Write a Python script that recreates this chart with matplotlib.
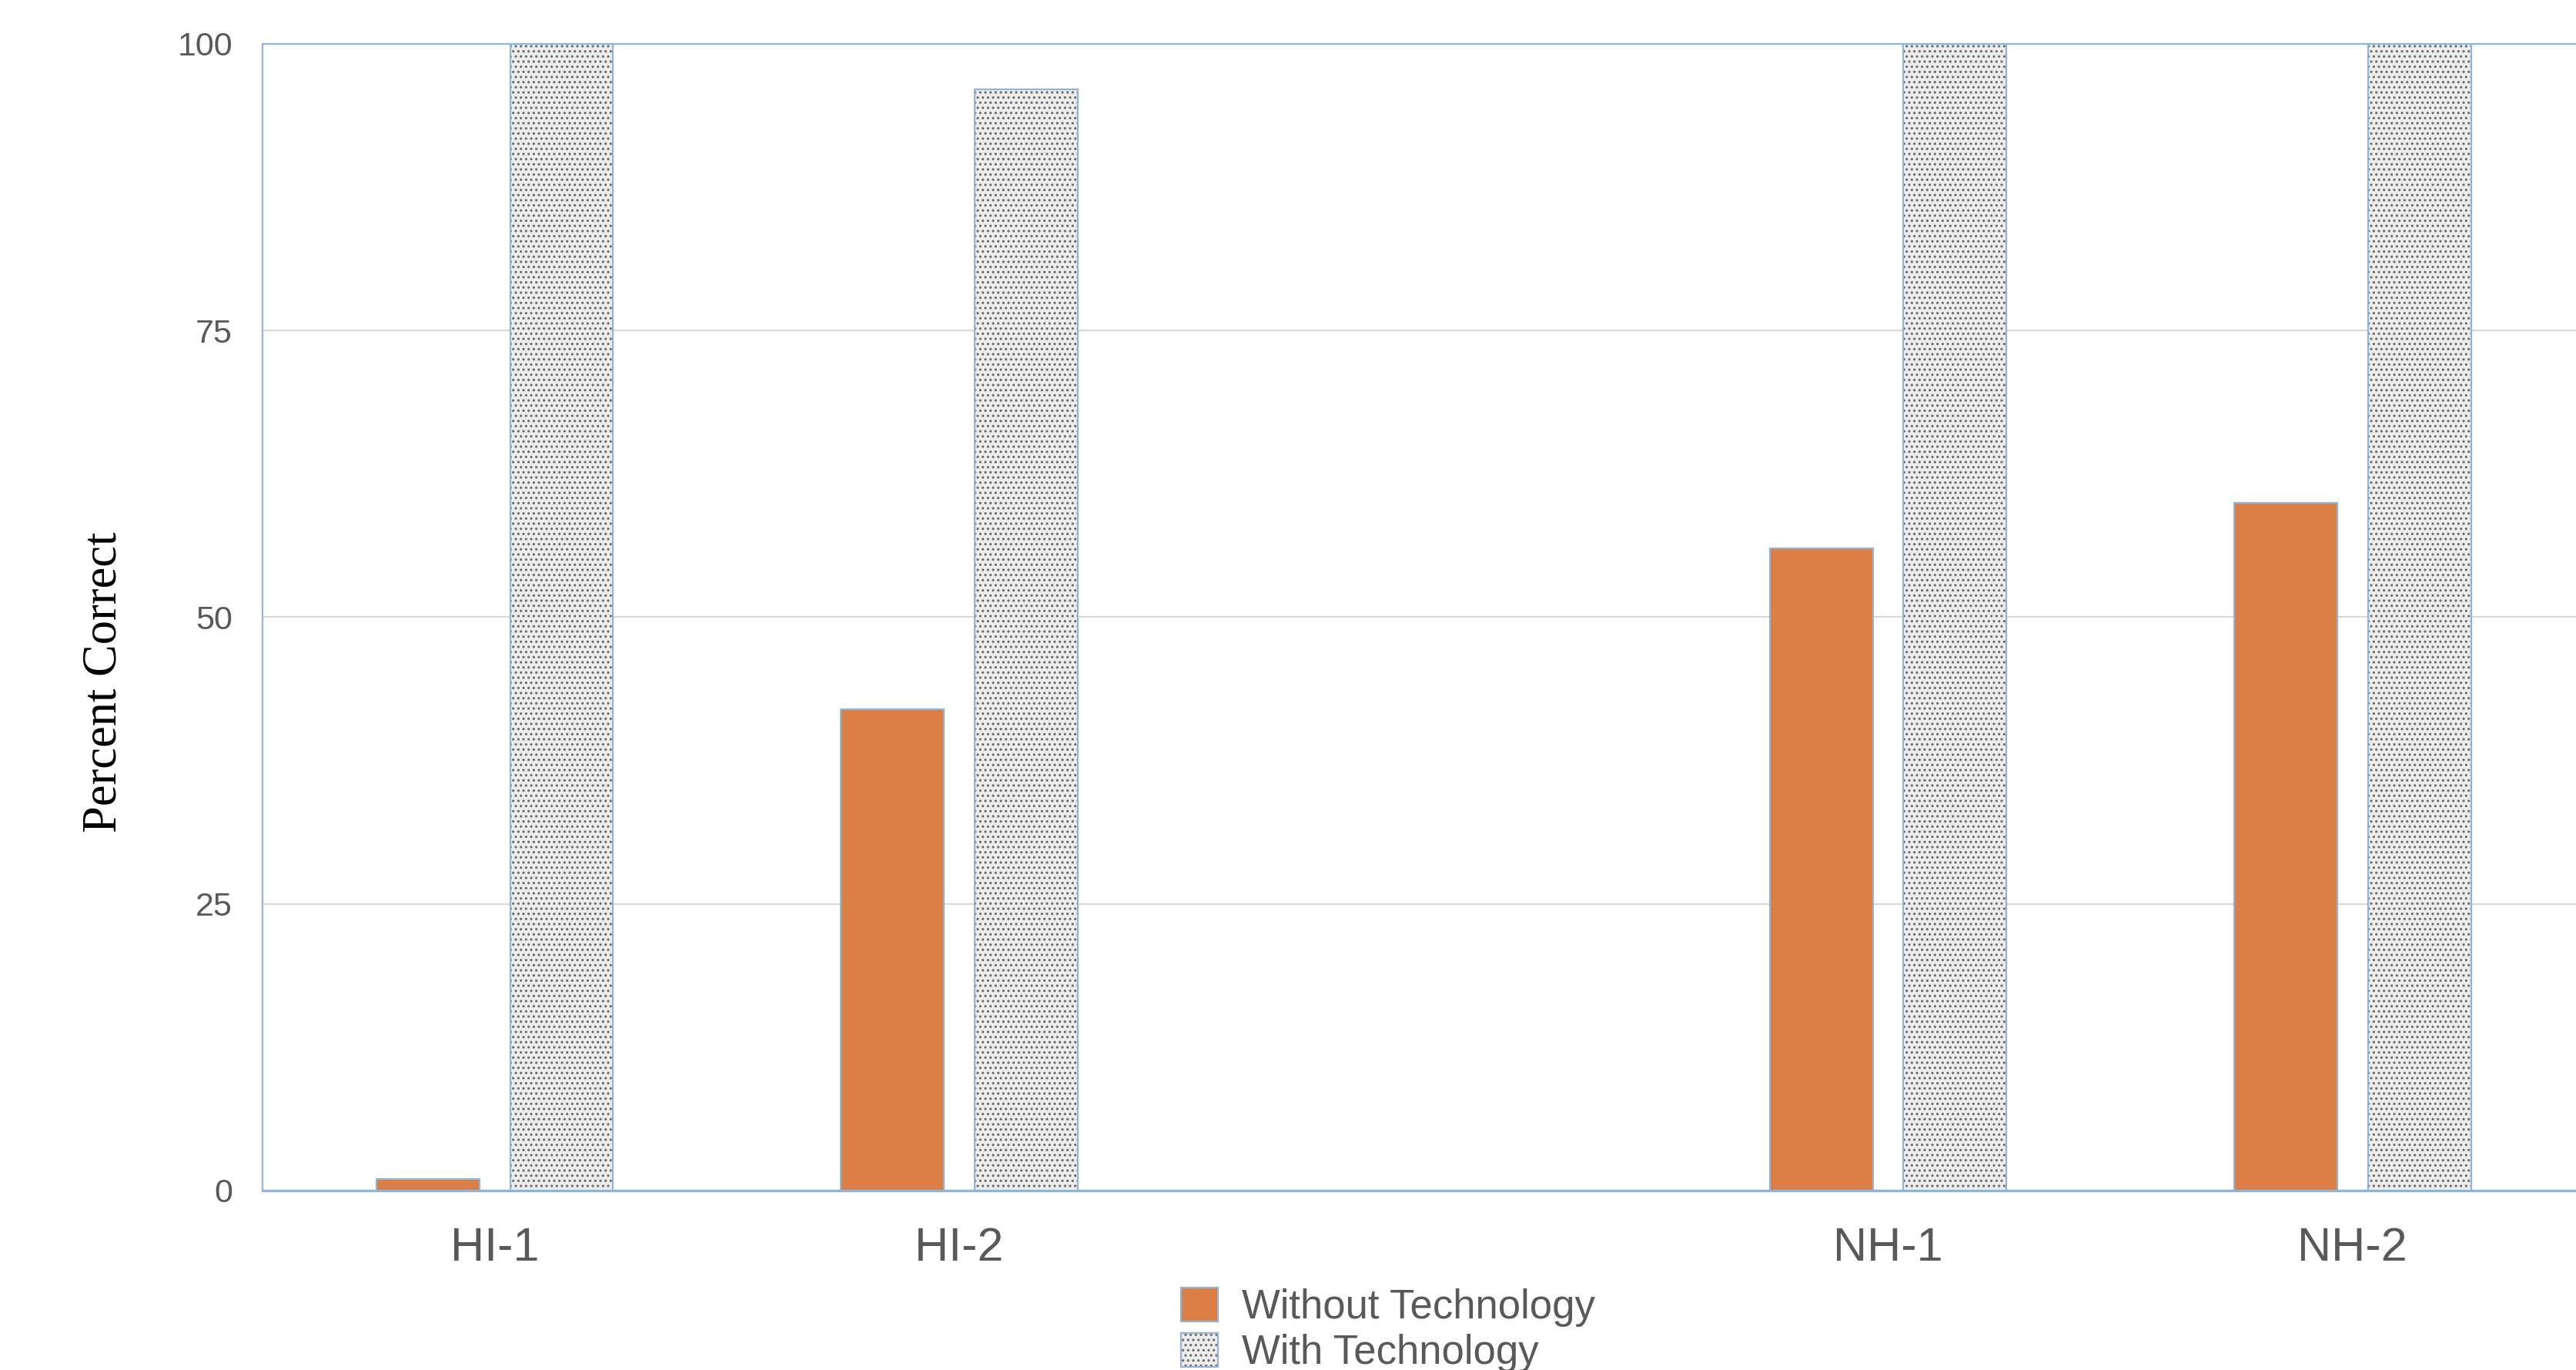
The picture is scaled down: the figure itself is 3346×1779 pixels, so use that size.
import matplotlib
matplotlib.use("Agg")
import matplotlib.pyplot as plt
from matplotlib.patches import Patch
import numpy as np

# Data
categories = ["HI-1", "HI-2", "", "NH-1", "NH-2"]
without_tech = [1, 42, np.nan, 56, 60]
with_tech = [100, 96, np.nan, 100, 100]
series_names = ["Without Technology", "With Technology"]
y_ticks = [0, 25, 50, 75, 100]

ORANGE = "#DC7F46"
EDGE = "#93B4D4"
GRID = "#D9D9D9"
TEXT = "#595959"
DOT_FACE = "#EDEDED"
DOT_COLOR = "#6E6E6E"

plt.rcParams["hatch.linewidth"] = 0.7
plt.rcParams["font.family"] = ["Liberation Sans", "DejaVu Sans"]

fig = plt.figure(figsize=(16.73, 8.895), dpi=200)
ax = fig.add_axes([0.1019, 0.131, 0.9015, 0.837])

x = np.arange(len(categories))
width = 0.222
offset = 0.144

# Without technology: solid orange bars
ax.bar(x - offset, without_tech, width, color=ORANGE, edgecolor=EDGE,
       linewidth=0.8, zorder=3)
# With technology: dotted texture, then a light blue outline on top
ax.bar(x + offset, with_tech, width, color=DOT_FACE, edgecolor=DOT_COLOR,
       hatch=".....", linewidth=0, zorder=3)
ax.bar(x + offset, with_tech, width, color="none", edgecolor=EDGE,
       linewidth=0.8, zorder=4)

ax.set_xlim(-0.5, len(categories) - 0.5)
ax.set_ylim(0, 100)
ax.set_yticks(y_ticks)
ax.set_xticks(x)
ax.set_xticklabels(categories)
ax.tick_params(axis="both", length=0, colors=TEXT)
ax.tick_params(axis="y", labelsize=15.5, pad=14)
ax.tick_params(axis="x", labelsize=22, pad=17)

ax.yaxis.grid(True, color=GRID, linewidth=0.8, zorder=0)
ax.set_axisbelow(True)

for side in ["left", "top", "bottom"]:
    ax.spines[side].set_color(EDGE)
    ax.spines[side].set_linewidth(0.8)
ax.spines["bottom"].set_linewidth(1.2)
ax.spines["right"].set_visible(False)

fig.text(0.0405, 0.502, "Percent Correct", rotation=90, ha="center",
         va="center", fontsize=22.5, family=["Liberation Serif", "DejaVu Serif"],
         color="black")

# Legend
h_without = Patch(facecolor=ORANGE, edgecolor=EDGE, linewidth=0.8)
h_with_fill = Patch(facecolor=DOT_FACE, edgecolor=DOT_COLOR, hatch=".....",
                    linewidth=0)
h_with_edge = Patch(facecolor="none", edgecolor=EDGE, linewidth=0.8)
fig.legend([h_without, (h_with_fill, h_with_edge)], series_names,
           loc="upper left", bbox_to_anchor=(0.4585, 0.060),
           frameon=False, fontsize=19, labelcolor=TEXT,
           handlelength=0.9, handleheight=0.9, handletextpad=0.6,
           labelspacing=0.15, borderpad=0, borderaxespad=0)

fig.savefig("out.png", dpi=200)
